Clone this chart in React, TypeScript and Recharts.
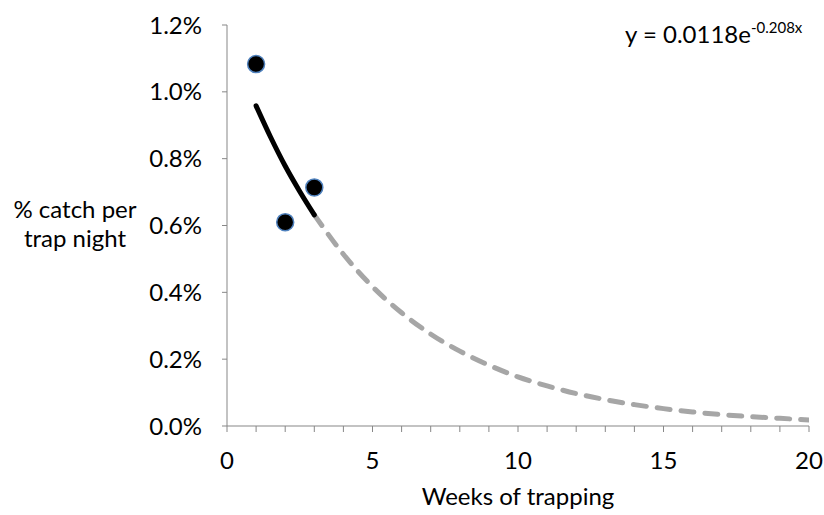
import React from 'react';
import { ComposedChart, XAxis, YAxis, Line, Scatter, Customized } from 'recharts';

// Observed data
const weeks = [1, 2, 3];
const catchPct = [1.083, 0.61, 0.714];

// Exponential trend line
const trendWeeks = [1, 1.5, 2, 2.5, 3, 4, 5, 6, 7, 8, 9, 10, 11, 12, 13, 14, 15, 16, 17, 18, 19, 20];
const trendPct = [0.958, 0.864, 0.778, 0.702, 0.632, 0.514, 0.417, 0.339, 0.275, 0.224, 0.182, 0.147, 0.12, 0.097, 0.079, 0.064, 0.052, 0.042, 0.034, 0.028, 0.023, 0.018];

const xTicks = [0, 1, 2, 3, 4, 5, 6, 7, 8, 9, 10, 11, 12, 13, 14, 15, 16, 17, 18, 19, 20];
const yTicks = [0, 0.2, 0.4, 0.6, 0.8, 1.0, 1.2];

const equationMain = 'y = 0.0118e';
const equationExp = '-0.208x';
const xTitle = 'Weeks of trapping';
const yTitleLines = ['% catch per', 'trap night'];

const FONT = 'Lato, "Open Sans", sans-serif';
const FS = 24;
const AXIS = '#878787';

const scatterData = weeks.map((w, i) => ({ x: w, y: catchPct[i] }));
const trendAll = trendWeeks.map((w, i) => ({ x: w, y: trendPct[i] }));
const trendSolid = trendAll.filter((d) => d.x <= 3);
const trendDashed = trendAll.filter((d) => d.x >= 3);

const Equation = () => (
  <text x={625} y={43} fontFamily={FONT} fontSize={FS} fill="#000">
    <tspan>{equationMain}</tspan>
    <tspan dy={-10} fontSize={15}>{equationExp}</tspan>
  </text>
);

const YTitle = () => (
  <text fontFamily={FONT} fontSize={FS} fill="#000" textAnchor="middle">
    <tspan x={75} y={218}>{yTitleLines[0]}</tspan>
    <tspan x={75} y={247}>{yTitleLines[1]}</tspan>
  </text>
);

const XTitle = (props: any) => {
  const vb = props.viewBox || {};
  return (
    <text x={vb.x + vb.width / 2} y={vb.y + 79} fontFamily={FONT} fontSize={FS} fill="#000" textAnchor="middle">
      {xTitle}
    </text>
  );
};

export default function App() {
  return (
    <div style={{ position: 'absolute', left: 0, top: 0, width: 824, height: 515, background: '#fff' }}>
      <ComposedChart width={824} height={515} margin={{ top: 25, right: 15, bottom: 0, left: 0 }}>
        <XAxis
          type="number"
          dataKey="x"
          domain={[0, 20]}
          ticks={xTicks}
          interval={0}
          allowDataOverflow
          height={89}
          stroke={AXIS}
          tickSize={6}
          tickMargin={20}
          tick={{ fill: '#000', fontSize: FS, fontFamily: FONT }}
          tickFormatter={(v: number) => (v % 5 === 0 ? String(v) : '')}
          label={<XTitle />}
        />
        <YAxis
          type="number"
          dataKey="y"
          domain={[0, 1.2]}
          ticks={yTicks}
          interval={0}
          allowDataOverflow
          width={227}
          stroke={AXIS}
          tickSize={5}
          tickMargin={20}
          tick={{ fill: '#000', fontSize: FS, fontFamily: FONT }}
          tickFormatter={(v: number) => v.toFixed(1) + '%'}
        />
        <Line
          data={trendDashed}
          dataKey="y"
          type="monotone"
          stroke="#a6a6a6"
          strokeWidth={5}
          strokeDasharray="13 11"
          strokeLinecap="round"
          dot={false}
          activeDot={false}
          isAnimationActive={false}
        />
        <Line
          data={trendSolid}
          dataKey="y"
          type="monotone"
          stroke="#000"
          strokeWidth={5}
          strokeLinecap="round"
          dot={false}
          activeDot={false}
          isAnimationActive={false}
        />
        <Scatter
          data={scatterData}
          dataKey="y"
          fill="#000"
          stroke="#4f81bd"
          strokeWidth={1.5}
          shape={(p: any) => <circle cx={p.cx} cy={p.cy} r={8.5} fill="#000" stroke="#4f81bd" strokeWidth={1.5} />}
          isAnimationActive={false}
        />
        <Customized component={Equation} />
        <Customized component={YTitle} />
      </ComposedChart>
    </div>
  );
}
